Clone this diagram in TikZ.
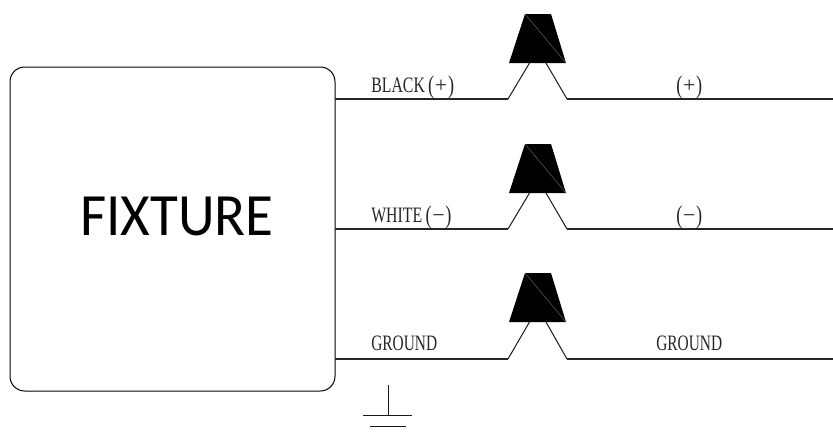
\documentclass[tikz,border=0pt]{standalone}
\usepackage{fontspec}
\usepackage{graphicx}
\setmainfont{Liberation Serif}
\newfontfamily\fixfont{Carlito}
\tikzset{
  x=0.75pt,y=-0.75pt,
  wire/.style={line width=0.9pt,draw=black!85},
  leg/.style={line width=0.75pt,draw=black!90},
  fixturebox/.style={draw=black,line width=0.75pt,rounded corners=11pt,minimum width=243.75pt,minimum height=243pt,inner sep=0pt},
  wirelabel/.style={anchor=base west,inner sep=0pt,text=black!85,font=\fontsize{16.5pt}{17pt}\selectfont},
}
\newcommand{\narrow}[1]{\scalebox{0.72}[1]{#1}}
\newcommand{\tallpar}[1]{{\fontsize{19pt}{19pt}\selectfont\raisebox{-0.4pt}{#1}}}
\newcommand{\parplus}{\tallpar{(}\kern0.7pt\scalebox{1.39}[1]{+}\kern0.7pt\tallpar{)}}
\newcommand{\parminus}{\tallpar{(}\kern0.7pt\scalebox{1.39}[1]{−}\kern0.7pt\tallpar{)}}
\begin{document}
\begin{tikzpicture}
\useasboundingbox (0,0) rectangle (833,437);
\node[fixturebox] (fixture) at (172.5,229) {};
\node[anchor=base,inner sep=0pt,font=\fixfont\fontsize{45pt}{48pt}\selectfont] (fixturetext) at (177,235) {\scalebox{0.95}[1]{FIXTURE}};
\foreach \n/\yy/\ty in {a/99/14,b/229/144,c/359/273}{
  \coordinate (\n L) at (335,\yy);
  \coordinate (\n R) at (833,\yy);
  \coordinate (\n P) at (508,\yy);
  \coordinate (\n Q) at (567,\yy);
  \coordinate (\n U) at (529.5,\ty+49);
  \coordinate (\n V) at (546,\ty+49);
  \coordinate (\n A) at (525,\ty);
  \coordinate (\n B) at (551,\ty);
  \coordinate (\n C) at (566,\ty+49);
  \coordinate (\n D) at (509,\ty+49);
  \draw[wire] (\n L) -- (\n P);
  \draw[wire] (\n Q) -- (\n R);
  \draw[leg] (\n P) -- (\n U);
  \draw[leg] (\n Q) -- (\n V);
  \fill[black] (\n A) -- (\n B) -- (\n C) -- (\n D) -- cycle;
  \draw[black!55,line width=0.3pt] (\n A) -- (\n C);
}
\node[wirelabel] (t1) at (371,92.7) {\narrow{BLACK\kern3.4pt\parplus}};
\node[wirelabel] (t2) at (371,222.7) {\narrow{WHITE\kern3.4pt\parminus}};
\node[wirelabel] (t3) at (371,350.7) {\scalebox{0.70}[1]{GROUND}};
\node[wirelabel] (t4) at (676,92.7) {\narrow{\parplus}};
\node[wirelabel] (t5) at (676,222.7) {\narrow{\parminus}};
\node[wirelabel] (t6) at (656,350.7) {\scalebox{0.70}[1]{GROUND}};
\coordinate (g0) at (388,385);
\coordinate (g1) at (388,415);
\coordinate (g2) at (363,415);
\coordinate (g3) at (412,415);
\coordinate (g4) at (370,426);
\coordinate (g5) at (406,426);
\draw[leg] (g0) -- (g1);
\draw[leg] (g2) -- (g3);
\draw[leg] (g4) -- (g5);
\end{tikzpicture}
\end{document}
